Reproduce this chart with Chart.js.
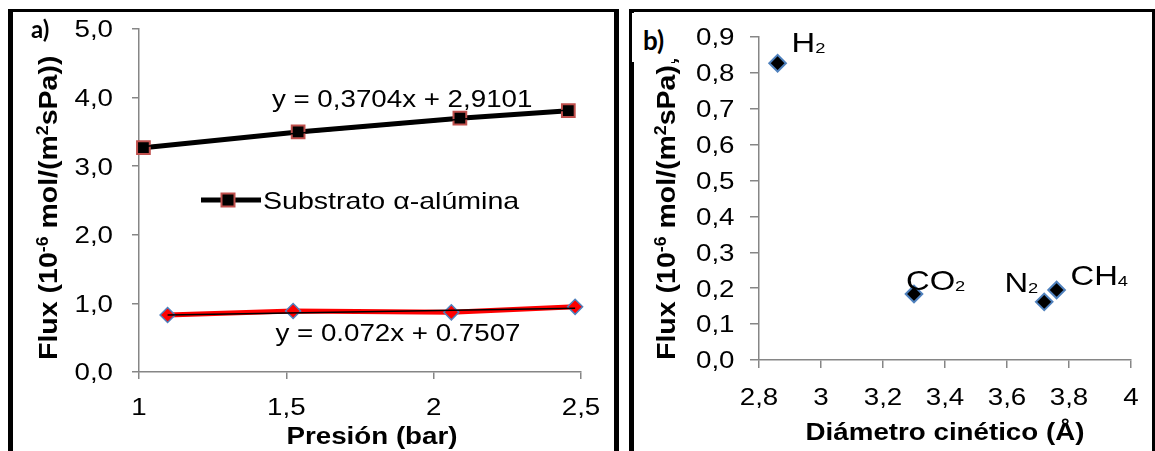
<!DOCTYPE html>
<html>
<head>
<meta charset="utf-8">
<script src="https://cdn.jsdelivr.net/npm/chart.js@4.4.1/dist/chart.umd.min.js"></script>
<style>
  html, body { margin: 0; padding: 0; background: #fff; }
  #wrap { position: relative; width: 1155px; height: 451px; overflow: hidden; background: #fff; }
  #wrap canvas { position: absolute; top: 0; }
  #cA { left: 0; }
  #cB { left: 634px; }
  .rule { position: absolute; background: #000; }
  .tag { position: absolute; font-family: Lato, 'Liberation Sans', sans-serif; font-weight: bold; color: #000; line-height: 1; z-index: 3; }
  .mask { position: absolute; background: #fff; z-index: 2; }
</style>
</head>
<body>
<div id="wrap">
  <!-- panel frames -->
  <div class="rule" style="left:8px;top:9px;width:5px;height:442px"></div>
  <div class="rule" style="left:8px;top:9px;width:611px;height:3px"></div>
  <div class="rule" style="left:614px;top:9px;width:5px;height:442px"></div>
  <div class="rule" style="left:629px;top:9px;width:5px;height:442px"></div>
  <div class="rule" style="left:629px;top:9px;width:526px;height:3px"></div>
  <div class="rule" style="left:1152px;top:9px;width:3px;height:442px"></div>

  <canvas id="cA" width="612" height="451" style="width:612px;height:451px"></canvas>
  <canvas id="cB" width="521" height="451" style="width:521px;height:451px"></canvas>

  <div class="tag" style="left:31px;top:17px;font-size:24px">a)</div>
  <div class="mask" style="left:632px;top:13px;width:42px;height:49px"></div>
  <div class="tag" style="left:643px;top:27px;font-size:26px">b)</div>
</div>

<script>
// ---- panel a: flux vs pressure ----
const pressureSubstrate = [1.015, 1.54, 2.089, 2.457];
const fluxSubstrate     = [3.27, 3.50, 3.70, 3.81];
const pressureMembrane  = [1.097, 1.523, 2.06, 2.48];
const fluxMembrane      = [0.83, 0.89, 0.87, 0.95];
const fitSubstrate      = [0.3704, 2.9101];   // slope, intercept
const fitMembrane       = [0.072, 0.7507];    // slope, intercept
const fitSubstrateText  = 'y = 0,3704x + 2,9101';
const fitMembraneText   = 'y = 0.072x + 0.7507';
const substrateLabel    = 'Substrato α-alúmina';

// ---- panel b: flux vs kinetic diameter ----
const gases            = ['H2', 'CO2', 'N2', 'CH4'];
const kineticDiameter  = [2.86, 3.30, 3.72, 3.76];
const gasFlux          = [0.827, 0.184, 0.162, 0.195];

// ---- axis titles ----
const fluxTitleA    = 'Flux (10^{-6} mol/(m^{2}sPa))';
const fluxTitleB    = 'Flux (10^{-6} mol/(m^{2}sPa),';
const pressureTitle = 'Presión (bar)';
const diameterTitle = 'Diámetro cinético (Å)';

const FAMILY = "'Liberation Sans', Arial, sans-serif";
Chart.defaults.font.family = FAMILY;
Chart.defaults.color = '#000';

const AXIS_GREY = '#868686';
const WIDE = 1.19;          // horizontal widening of the lettering
const TXT = 23.3;           // base text size

// ---------- helpers ----------
const toPoints = (xs, ys) => xs.map((x, i) => ({ x, y: ys[i] }));
const fitPoints = (coef, xs) => [Math.min(...xs), Math.max(...xs)].map(x => ({ x, y: coef[0] * x + coef[1] }));
const decimalComma = v => (Math.round(v * 1000) / 1000).toFixed(1).replace('.', ',');
const axisNumber = v => {
  const r = Math.round(v * 1000) / 1000;
  return Number.isInteger(r) ? String(r) : decimalComma(r);
};

// split "a^{b}c_{d}" into text runs
function parseRich(str) {
  const runs = [];
  const re = /(\^|_)\{([^}]*)\}/g;
  let last = 0, m;
  while ((m = re.exec(str))) {
    if (m.index > last) runs.push({ t: str.slice(last, m.index) });
    runs.push({ t: m[2], sup: m[1] === '^', sub: m[1] === '_' });
    last = re.lastIndex;
  }
  if (last < str.length) runs.push({ t: str.slice(last) });
  return runs;
}
// chemical formula: digits become subscripts
const chemRuns = name => name.split(/(\d+)/).filter(Boolean).map(p => /^\d+$/.test(p) ? { t: p, sub: true } : { t: p });

function runFont(r, st) {
  const size = (r.sup || r.sub) ? st.size * (st.small || 0.62) : st.size;
  return `${st.weight || 'normal'} ${size}px ${FAMILY}`;
}
function runsWidth(ctx, runs, st) {
  let w = 0;
  runs.forEach(r => { ctx.font = runFont(r, st); w += ctx.measureText(r.t).width; });
  return w;
}
// draw text runs on a baseline, widened along the writing direction
function drawRich(ctx, runs, x, y, st, align, angle) {
  ctx.save();
  ctx.translate(x, y);
  if (angle) ctx.rotate(angle);
  ctx.scale(st.stretch || 1, 1);
  ctx.textAlign = 'left';
  ctx.textBaseline = 'alphabetic';
  const w = runsWidth(ctx, runs, st);
  let cx = align === 'center' ? -w / 2 : align === 'right' ? -w : 0;
  runs.forEach(r => {
    ctx.font = runFont(r, st);
    const dy = r.sup ? -st.size * 0.36 : r.sub ? (st.drop || 0) : 0;
    ctx.fillText(r.t, cx, dy);
    cx += ctx.measureText(r.t).width;
  });
  ctx.restore();
}

// tick labels, axis titles, equation notes, inline legend and point names
const panelText = {
  id: 'panelText',
  afterDraw(chart, args, o) {
    const ctx = chart.ctx;
    const xs = chart.scales.x, ys = chart.scales.y;
    const area = chart.chartArea;
    const tickSt = { size: TXT, stretch: WIDE };
    ctx.save();
    ctx.fillStyle = '#000';

    // tick labels from the scales' own ticks
    xs.ticks.forEach(t => {
      drawRich(ctx, [{ t: o.xFmt(t.value) }], xs.getPixelForValue(t.value), area.bottom + o.xLabelDrop, tickSt, 'center');
    });
    ys.ticks.forEach(t => {
      drawRich(ctx, [{ t: o.yFmt(t.value) }], area.left - o.yLabelGap, ys.getPixelForValue(t.value) + TXT * 0.358, tickSt, 'right');
    });

    // vertical title
    const yt = o.yTitle;
    drawRich(ctx, parseRich(yt.text), yt.x, yt.y,
      { size: yt.size, weight: 'bold', stretch: yt.stretch }, 'left', -Math.PI / 2);

    // horizontal title
    const xt = o.xTitle;
    drawRich(ctx, parseRich(xt.text), xt.x, xt.y, { size: xt.size, weight: 'bold', stretch: WIDE }, 'center');

    // trend-line equations anchored in data space
    (o.notes || []).forEach(n => {
      drawRich(ctx, [{ t: n.text }], xs.getPixelForValue(n.x), ys.getPixelForValue(n.y), { size: n.size, stretch: WIDE }, 'left');
    });

    // inline legend
    if (o.legend) {
      const L = o.legend;
      const ds = chart.data.datasets[L.dataset];
      const lx = area.left + L.dx, ly = area.top + L.dy;
      ctx.strokeStyle = ds.borderColor;
      ctx.lineWidth = ds.borderWidth;
      ctx.beginPath(); ctx.moveTo(lx, ly); ctx.lineTo(lx + L.len, ly); ctx.stroke();
      const s = L.box, cx = lx + L.mark;
      ctx.fillStyle = ds.pointBackgroundColor;
      ctx.fillRect(cx - s / 2, ly - s / 2, s, s);
      ctx.strokeStyle = ds.pointBorderColor;
      ctx.lineWidth = ds.pointBorderWidth;
      ctx.strokeRect(cx - s / 2, ly - s / 2, s, s);
      ctx.fillStyle = '#000';
      drawRich(ctx, [{ t: ds.label }], lx + L.len + 2, ly + L.size * 0.36, { size: L.size, stretch: WIDE }, 'left');
    }

    // names next to the points
    if (o.pointNames) {
      const P = o.pointNames;
      const meta = chart.getDatasetMeta(P.dataset);
      const st = { size: P.size, small: P.small, drop: P.drop, stretch: WIDE };
      P.names.forEach((name, i) => {
        const el = meta.data[i];
        const off = P.offsets[i];
        drawRich(ctx, chemRuns(name), el.x + off[0], el.y + off[1], st, off[2] || 'left');
      });
    }
    ctx.restore();
  }
};

function axis(opts) {
  return {
    type: 'linear',
    min: opts.min, max: opts.max,
    ticks: { stepSize: opts.step, display: false, autoSkip: false },
    grid: { drawOnChartArea: false, color: AXIS_GREY, lineWidth: 1.5, tickLength: opts.tick },
    border: { color: AXIS_GREY, width: 1.5 },
    title: { display: false },
    afterFit: s => { if (opts.width) s.width = opts.width; if (opts.height) s.height = opts.height; }
  };
}

const common = {
  responsive: false,
  animation: false,
  events: [],
  plugins: { legend: { display: false }, tooltip: { enabled: false } }
};

// ---------- chart a ----------
new Chart(document.getElementById('cA'), {
  type: 'scatter',
  data: {
    datasets: [
      {
        label: fitMembraneText,
        data: fitPoints(fitMembrane, pressureMembrane),
        showLine: true, borderColor: '#000', borderWidth: 1.5, pointRadius: 0, order: 0, clip: false
      },
      {
        label: fitSubstrateText,
        data: fitPoints(fitSubstrate, pressureSubstrate),
        showLine: true, borderColor: '#000', borderWidth: 1.5, pointRadius: 0, order: 1, clip: false
      },
      {
        label: substrateLabel,
        data: toPoints(pressureSubstrate, fluxSubstrate),
        showLine: true, borderColor: '#000', borderWidth: 5,
        pointStyle: 'rect', pointRadius: 9,
        pointBackgroundColor: '#000', pointBorderColor: '#C0504D', pointBorderWidth: 2,
        order: 2, clip: false
      },
      {
        label: 'Membrana',
        data: toPoints(pressureMembrane, fluxMembrane),
        showLine: true, borderColor: '#FF0000', borderWidth: 5,
        pointStyle: 'rectRot', pointRadius: 7.5,
        pointBackgroundColor: '#FF0000', pointBorderColor: '#4F81BD', pointBorderWidth: 1.5,
        order: 3, clip: false
      }
    ]
  },
  options: {
    ...common,
    layout: { padding: { left: 0, top: 29, right: 31, bottom: 0 } },
    scales: {
      x: axis({ min: 1, max: 2.5, step: 0.5, tick: 7, height: 79 }),
      y: axis({ min: 0, max: 5, step: 1, tick: 7, width: 139 })
    },
    plugins: {
      ...common.plugins,
      panelText: {
        xFmt: axisNumber, yFmt: decimalComma,
        xLabelDrop: 43, yLabelGap: 26,
        yTitle: { text: fluxTitleA, x: 57, y: 360, size: 25.7, stretch: 1.11 },
        xTitle: { text: pressureTitle, x: 372, y: 444, size: TXT },
        notes: [
          { text: fitSubstrateText, x: 1.451, y: 3.863, size: TXT },
          { text: fitMembraneText, x: 1.463, y: 0.452, size: TXT }
        ],
        legend: { dataset: 2, dx: 62, dy: 171, len: 60, mark: 27, box: 13, size: 24 }
      }
    }
  },
  plugins: [panelText]
});

// ---------- chart b ----------
new Chart(document.getElementById('cB'), {
  type: 'scatter',
  data: {
    datasets: [
      {
        label: 'Flux',
        data: toPoints(kineticDiameter, gasFlux),
        pointStyle: 'rectRot', pointRadius: 8.3,
        pointBackgroundColor: '#000', pointBorderColor: '#4F81BD', pointBorderWidth: 2,
        clip: false
      }
    ]
  },
  options: {
    ...common,
    layout: { padding: { left: 0, top: 37, right: 24, bottom: 0 } },
    scales: {
      x: axis({ min: 2.8, max: 4, step: 0.2, tick: 8, height: 91 }),
      y: axis({ min: 0, max: 0.9, step: 0.1, tick: 9, width: 125 })
    },
    plugins: {
      ...common.plugins,
      panelText: {
        xFmt: axisNumber, yFmt: decimalComma,
        xLabelDrop: 45, yLabelGap: 24.5,
        yTitle: { text: fluxTitleB, x: 41, y: 360, size: 25.7, stretch: 1.11 },
        xTitle: { text: diameterTitle, x: 311, y: 440, size: TXT },
        pointNames: {
          dataset: 0, names: gases, size: 27.5, small: 0.56, drop: 1,
          offsets: [[14, -11], [-8, -4], [-6, -10, 'right'], [14, -5]]
        }
      }
    }
  },
  plugins: [panelText]
});
</script>
</body>
</html>
